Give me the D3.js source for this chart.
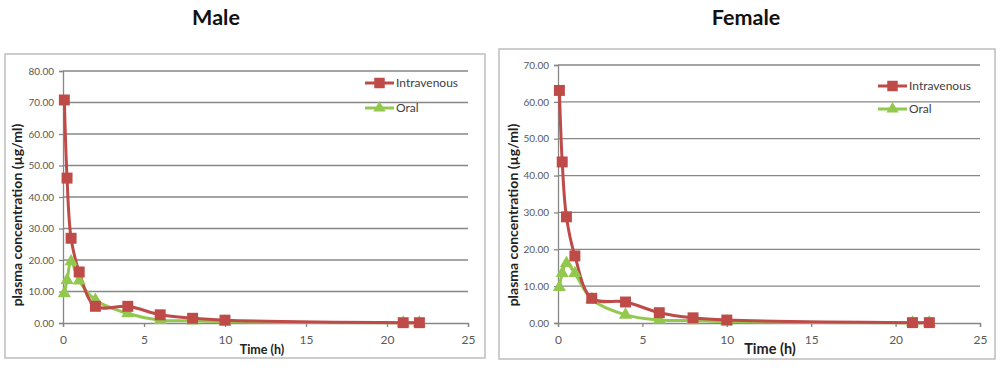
<!DOCTYPE html>
<html><head><meta charset="utf-8">
<script src="https://cdn.jsdelivr.net/npm/d3@7"></script>
<style>body{margin:0;background:#fff}svg{display:block}text{font-family:Lato,"Open Sans",sans-serif}</style>
</head><body><svg id="c" width="1000" height="368"></svg>
<script>
const times = [0.083, 0.25, 0.5, 1, 2, 4, 6, 8, 10, 21, 22];
const seriesNames = ["Intravenous", "Oral"];
const maleIV   = [70.8, 46.0, 26.9, 16.2, 5.3, 5.3, 2.6, 1.5, 0.9, 0.1, 0.1];
const maleOral = [9.4, 13.6, 19.5, 13.4, 7.3, 3.0, 0.9, 0.7, 0.4, 0.05, 0.05];
const femaleIV   = [63.1, 43.7, 28.8, 18.2, 6.7, 5.7, 2.8, 1.4, 0.8, 0.1, 0.1];
const femaleOral = [9.7, 13.5, 16.2, 13.5, 6.4, 2.2, 0.8, 0.7, 0.4, 0.05, 0.05];
const xTicks = [0, 5, 10, 15, 20, 25];
const maleYTicks = [0, 10, 20, 30, 40, 50, 60, 70, 80];
const femaleYTicks = [0, 10, 20, 30, 40, 50, 60, 70];
const titles = ["Male", "Female"];
const yTitle = "plasma concentration (\u00b5g/ml)";
const xTitle = "Time (h)";

const svg = d3.select("#c");
const RED = "#BE4B48", GREEN = "#92C84E";

function panel(o) {
  const g = svg.append("g");
  g.append("rect").attr("x", o.frame[0]).attr("y", o.frame[1]).attr("width", o.frame[2]).attr("height", o.frame[3])
    .attr("fill", "#fff").attr("stroke", "#BDBDBD").attr("stroke-width", 1.5);
  g.append("text").attr("x", o.titleX).attr("y", 25).attr("text-anchor", "middle")
    .attr("font-size", 21.5).attr("font-weight", "bold").attr("fill", "#111").text(o.title);

  const x = d3.scaleLinear().domain([0, 25]).range([o.x0, o.x1]);
  const y = d3.scaleLinear().domain([0, o.yMax]).range([o.y0, o.y1]);

  g.append("g").selectAll("line").data(o.yTicks.filter(d => d > 0)).join("line")
    .attr("x1", x(0)).attr("x2", x(25)).attr("y1", d => y(d)).attr("y2", d => y(d))
    .attr("stroke", "#878787").attr("stroke-width", 1.3);

  const ya = g.append("g").attr("transform", `translate(${x(0)},0)`)
    .call(d3.axisLeft(y).tickValues(o.yTicks).tickFormat(d3.format(".2f")).tickSize(4).tickPadding(5));
  const xa = g.append("g").attr("transform", `translate(0,${y(0)})`)
    .call(d3.axisBottom(x).tickValues(xTicks).tickFormat(d3.format("d")).tickSize(4).tickPadding(8));
  [ya, xa].forEach(a => {
    a.select(".domain").attr("stroke", "#878787").attr("stroke-width", 1.3);
    a.selectAll(".tick line").attr("stroke", "#878787").attr("stroke-width", 1.3);
    a.selectAll("text").attr("fill", "#595959").attr("font-family", "Lato,'Open Sans',sans-serif");
  });
  ya.selectAll("text").attr("font-size", 10);
  xa.selectAll("text").attr("font-size", 12);

  g.append("text").attr("transform", `translate(${o.yTitleX},215) rotate(-90)`).attr("text-anchor", "middle")
    .attr("font-size", 14).attr("font-weight", "bold").attr("fill", "#222").text(yTitle);
  g.append("text").attr("x", o.xTitleX).attr("y", o.xTitleY).attr("text-anchor", "middle")
    .attr("font-size", o.xTitleSize).attr("font-weight", "bold").attr("fill", "#222").text(xTitle);

  const line = d3.line().x(d => x(d[0])).y(d => y(d[1])).curve(d3.curveCatmullRom.alpha(0.5));
  const sets = [
    {vals: o.oral, color: GREEN, sym: d3.symbolTriangle, size: 75},
    {vals: o.iv, color: RED, sym: d3.symbolSquare, size: 120}
  ];
  sets.forEach(s => {
    const pts = times.map((t, i) => [t, s.vals[i]]);
    g.append("path").datum(pts).attr("d", line).attr("fill", "none").attr("stroke", s.color).attr("stroke-width", 3);
  });
  sets.forEach(s => {
    const pts = times.map((t, i) => [t, s.vals[i]]);
    g.append("g").selectAll("path").data(pts).join("path")
      .attr("transform", d => `translate(${x(d[0])},${y(d[1])})`)
      .attr("d", d3.symbol().type(s.sym).size(s.size)).attr("fill", s.color);
  });

  const legend = [
    {name: seriesNames[0], color: RED, sym: d3.symbolSquare, size: 110, y: o.legY[0]},
    {name: seriesNames[1], color: GREEN, sym: d3.symbolTriangle, size: 65, y: o.legY[1]}
  ];
  legend.forEach(l => {
    g.append("line").attr("x1", o.legX).attr("x2", o.legX + 29).attr("y1", l.y).attr("y2", l.y)
      .attr("stroke", l.color).attr("stroke-width", 3);
    g.append("path").attr("transform", `translate(${o.legX + 14.5},${l.y})`)
      .attr("d", d3.symbol().type(l.sym).size(l.size)).attr("fill", l.color);
    g.append("text").attr("x", o.legX + 31).attr("y", l.y + 4).attr("font-size", 12).attr("fill", "#404040").text(l.name);
  });
}

panel({title: titles[0], titleX: 216, frame: [5, 54, 480, 304], x0: 63, x1: 468, y0: 323, y1: 71, yMax: 80,
  yTicks: maleYTicks, iv: maleIV, oral: maleOral, yTitleX: 22, xTitleX: 262, xTitleY: 354, xTitleSize: 12.5,
  legX: 365, legY: [83, 108]});
panel({title: titles[1], titleX: 746, frame: [499, 49, 496, 310], x0: 558, x1: 980, y0: 323, y1: 65, yMax: 70,
  yTicks: femaleYTicks, iv: femaleIV, oral: femaleOral, yTitleX: 518, xTitleX: 770, xTitleY: 354, xTitleSize: 14.5,
  legX: 878, legY: [86, 109]});
</script></body></html>
